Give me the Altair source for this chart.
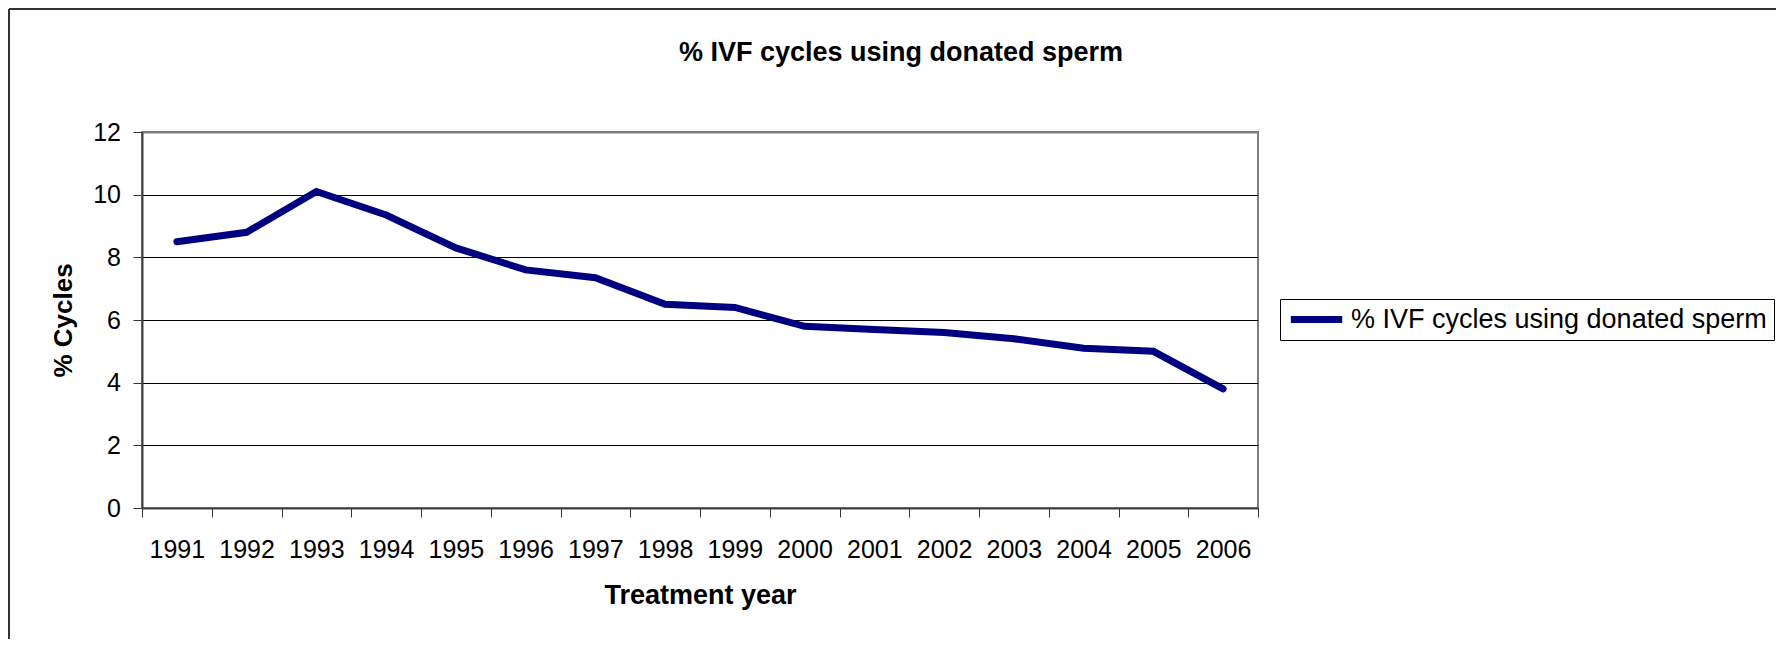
import altair as alt
import pandas as pd

TITLE = "% IVF cycles using donated sperm"
SERIES = "% IVF cycles using donated sperm"
X_TITLE = "Treatment year"
Y_TITLE = "% Cycles"
YEARS = ["1991", "1992", "1993", "1994", "1995", "1996", "1997", "1998",
         "1999", "2000", "2001", "2002", "2003", "2004", "2005", "2006"]
VALUES = [8.5, 8.8, 10.1, 9.35, 8.3, 7.6, 7.35, 6.5,
          6.4, 5.8, 5.7, 5.6, 5.4, 5.1, 5.0, 3.8]
Y_TICKS = [0, 2, 4, 6, 8, 10, 12]

FONT = "Liberation Sans"
LINE_COLOR = "#000080"

df = pd.DataFrame({"year": YEARS, "value": VALUES, "series": [SERIES] * len(YEARS)})
title_df = pd.DataFrame({"text": [TITLE]})
frame_df = pd.DataFrame({"k": [0]})

line = alt.Chart(df).mark_line(strokeWidth=7, strokeCap="round", strokeJoin="miter").encode(
    x=alt.X(
        "year:O",
        sort=YEARS,
        bandPosition=0.5,
        scale=alt.Scale(type="band", paddingInner=0, paddingOuter=0),
        axis=alt.Axis(
            title=X_TITLE,
            labelAngle=0,
            tickBand="extent",
            grid=False,
            labelFontSize=25,
            labelPadding=20,
            tickSize=9,
            tickColor="#333333",
            tickWidth=1,
            domainColor="#404040",
            domainWidth=2,
            titleFontSize=27,
            titleFontWeight="bold",
            titleBaseline="alphabetic",
            titleY=95,
        ),
    ),
    y=alt.Y(
        "value:Q",
        scale=alt.Scale(domain=[0, 12], nice=False, zero=True),
        axis=alt.Axis(
            values=Y_TICKS,
            title=Y_TITLE,
            grid=True,
            gridColor={"condition": {"test": "datum.value === 12", "value": "#808080"}, "value": "#000000"},
            gridWidth={"condition": {"test": "datum.value === 12", "value": 2}, "value": 1},
            labelFontSize=25,
            labelPadding=12.5,
            tickSize=9,
            tickColor="#333333",
            tickWidth=1,
            domainColor="#404040",
            domainWidth=2,
            titleFontSize=26,
            titleFontWeight="bold",
            titleAngle=270,
            titleBaseline="alphabetic",
            titleAlign="center",
            titleX=-70.5,
            titleY=188,
        ),
    ),
    color=alt.Color(
        "series:N",
        scale=alt.Scale(range=[LINE_COLOR]),
        legend=alt.Legend(
            title=None,
            orient="none",
            legendX=1138,
            legendY=167,
            direction="vertical",
            strokeColor="#000000",
            fillColor="#ffffff",
            padding=7,
            symbolType="stroke",
            symbolSize=2640,
            symbolStrokeWidth=7,
            clipHeight=27,
            labelFontSize=27,
            labelFont=FONT,
            labelColor="#000000",
            labelOffset=5,
            labelLimit=800,
        ),
    ),
)

title = alt.Chart(title_df).mark_text(
    fontSize=27, fontWeight="bold", font=FONT, align="center", baseline="alphabetic", color="#000000"
).encode(x=alt.value(759), y=alt.value(-70.6), text="text:N")

left_border = alt.Chart(frame_df).mark_rule(color="#333333", strokeWidth=2).encode(
    x=alt.value(-133), y=alt.value(-123), y2=alt.value(507)
)
top_border = alt.Chart(frame_df).mark_rule(color="#333333", strokeWidth=2).encode(
    x=alt.value(-133), x2=alt.value(1634), y=alt.value(-123)
)

chart = alt.layer(left_border, top_border, line, title).properties(
    width=1116,
    height=376,
    autosize=alt.AutoSizeParams(type="none"),
    padding={"left": 134, "top": 124, "right": 518, "bottom": 131},
    background="#ffffff",
).configure_view(
    stroke="#808080", strokeWidth=2
).configure_axis(
    labelFont=FONT, titleFont=FONT, labelColor="#000000", titleColor="#000000"
)

chart.save("out.html", embed_options={"renderer": "svg", "actions": False})
